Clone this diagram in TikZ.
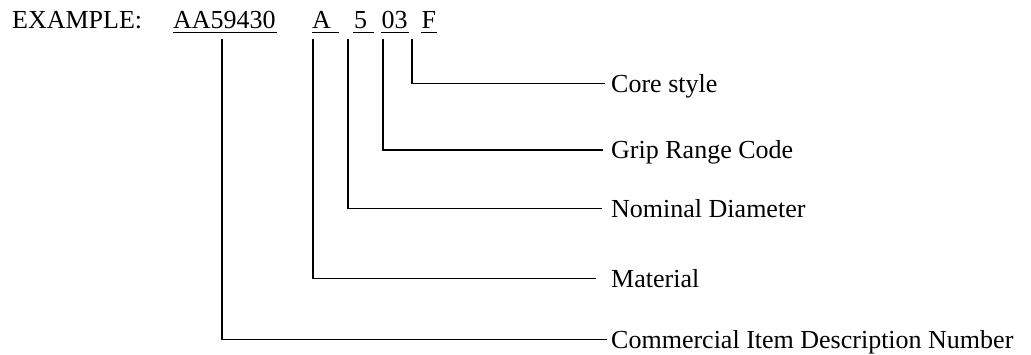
\documentclass[tikz,border=0pt]{standalone}
\usepackage{fontspec}
\setmainfont{Liberation Serif}
\begin{document}
\begin{tikzpicture}[x=1pt,y=-1pt,
  txt/.style={inner sep=0pt, anchor=base west, font=\fontsize{26pt}{30pt}\selectfont, text height=17pt, text depth=0pt},
  lbl/.style={txt},
  ln/.style={line width=1.6pt, line cap=butt},
  ul/.style={line width=1.4pt}]
\useasboundingbox (0,0) rectangle (1031,354);
% top row
\node[txt] (ex) at (12,28.5) {EXAMPLE:};
\node[txt] (cid) at (173,28.5) {AA59430};
\node[txt] (mat) at (312,28.5) {A};
\node[txt] (dia) at (354,28.5) {5};
\node[txt] (grip) at (381.5,28.5) {03};
\node[txt] (core) at (421.5,28.5) {F};
% underlines
\draw[ul] ([yshift=-3.8pt]cid.base west) -- ([yshift=-3.8pt,xshift=1pt]cid.base east);
\draw[ul] ([yshift=-3.8pt]mat.base west) -- ([yshift=-3.8pt,xshift=8pt]mat.base east);
\draw[ul] ([yshift=-3.8pt,xshift=-1pt]dia.base west) -- ([yshift=-3.8pt,xshift=7pt]dia.base east);
\draw[ul] ([yshift=-3.8pt,xshift=-0.5pt]grip.base west) -- ([yshift=-3.8pt,xshift=1pt]grip.base east);
\draw[ul] ([yshift=-3.8pt,xshift=-0.5pt]core.base west) -- ([yshift=-3.8pt,xshift=1pt]core.base east);
% labels
\node[lbl] (lcore) at (611,92) {Core style};
\node[lbl] (lgrip) at (611,158.5) {Grip Range Code};
\node[lbl] (ldia) at (611,217) {Nominal Diameter};
\node[lbl] (lmat) at (611,287) {Material};
\node[lbl] (lcid) at (611,348) {Commercial Item Description Number};
% connectors
\draw[ln, shorten >=6pt] ([xshift=-9.5pt,yshift=-10.5pt]core.base west) |- (lcore.west);
\draw[ln, shorten >=8pt] ([xshift=1.5pt,yshift=-10.5pt]grip.base west) |- (lgrip.west);
\draw[ln, shorten >=9pt] ([xshift=-6pt,yshift=-10.5pt]dia.base west) |- (ldia.west);
\draw[ln, shorten >=15.5pt] ([xshift=1pt,yshift=-10.5pt]mat.base west) |- (lmat.west);
\draw[ln, shorten >=4pt] ([xshift=49pt,yshift=-10.5pt]cid.base west) |- (lcid.west);
\end{tikzpicture}
\end{document}
